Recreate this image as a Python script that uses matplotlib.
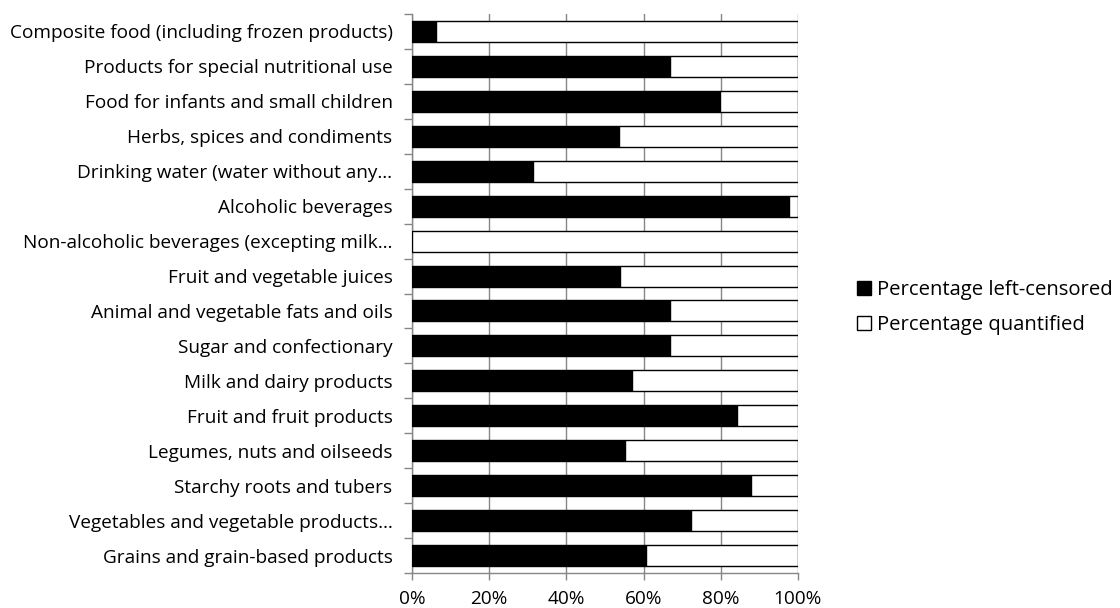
import matplotlib
matplotlib.use("Agg")
import matplotlib.pyplot as plt
from matplotlib.patches import Patch
import numpy as np

categories = [
    "Grains and grain-based products",
    "Vegetables and vegetable products…",
    "Starchy roots and tubers",
    "Legumes, nuts and oilseeds",
    "Fruit and fruit products",
    "Milk and dairy products",
    "Sugar and confectionary",
    "Animal and vegetable fats and oils",
    "Fruit and vegetable juices",
    "Non-alcoholic beverages (excepting milk…",
    "Alcoholic beverages",
    "Drinking water (water without any…",
    "Herbs, spices and condiments",
    "Food for infants and small children",
    "Products for special nutritional use",
    "Composite food (including frozen products)",
]
left_censored = [60.6, 72.2, 87.9, 55.3, 84.1, 57.1, 66.8, 66.8, 53.9, 0.0,
                 97.6, 31.4, 53.7, 79.7, 66.8, 6.1]
quantified = [100 - v for v in left_censored]
xtick_labels = ["0%", "20%", "40%", "60%", "80%", "100%"]

plt.rcParams['font.family'] = ['Open Sans', 'DejaVu Sans']

fig = plt.figure(figsize=(11.2, 6.08), dpi=100)
ax = fig.add_axes([412/1120, 1 - 573/608, (798-412)/1120, (573-14)/608])

y = np.arange(len(categories))
ax.barh(y, left_censored, height=0.6, color="black", edgecolor="black", linewidth=1, zorder=3,
        label="Percentage left-censored")
ax.barh(y, quantified, left=left_censored, height=0.6, color="white", edgecolor="black",
        linewidth=1, zorder=3, label="Percentage quantified")

ax.set_xlim(0, 100)
ax.set_ylim(-0.5, len(categories) - 0.5)
ax.set_xticks([0, 20, 40, 60, 80, 100])
ax.set_xticklabels(xtick_labels, fontsize=13.7)
ax.set_yticks(y)
ax.set_yticklabels(categories, fontsize=13.7)
ax.tick_params(axis='y', which='major', length=0, pad=14)
ax.set_yticks(np.arange(-0.5, len(categories), 1), minor=True)
ax.tick_params(axis='y', which='minor', length=6, color="#868686", width=1)
ax.tick_params(axis='x', which='major', length=5, color="#868686", width=1, pad=7)

ax.grid(axis='x', color="#868686", linewidth=1, zorder=0)
for s in ['top', 'right']:
    ax.spines[s].set_visible(False)
for s in ['left', 'bottom']:
    ax.spines[s].set_color("#868686")
    ax.spines[s].set_linewidth(1)

handles = [Patch(facecolor="black", edgecolor="black", label="Percentage left-censored"),
           Patch(facecolor="white", edgecolor="black", label="Percentage quantified")]
fig.legend(handles=handles, loc="center left", bbox_to_anchor=(857/1120, 1 - 307.5/608),
           frameon=False, fontsize=14.6, handlelength=0.68, handleheight=0.68,
           handletextpad=0.32, labelspacing=0.72, borderpad=0, borderaxespad=0)

fig.savefig("out.png", dpi=100)
